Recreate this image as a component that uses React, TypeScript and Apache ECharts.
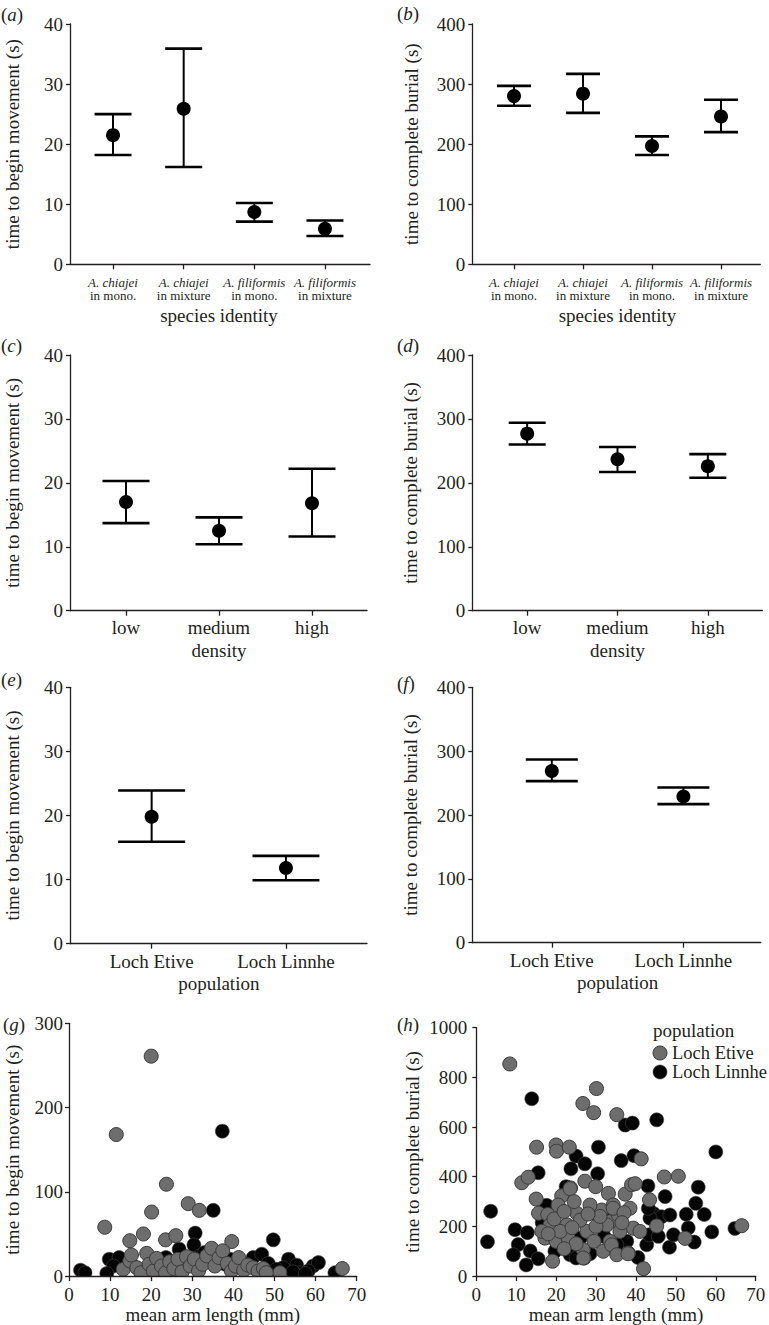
import React, { useEffect, useRef } from "react";
import * as echarts from "echarts";

const FONT = "'Liberation Serif', 'Times New Roman', serif";
const INK = "#231f20";
const GRAY = "#6d6d6d";
const GRAY_EDGE = "#3a3a3a";
const BLACK = "#050505";

// ---- (a)/(b) species identity ----
const speciesCategories = [
  "A. chiajei\nin mono.",
  "A. chiajei\nin mixture",
  "A. filiformis\nin mono.",
  "A. filiformis\nin mixture",
];
const moveBySpeciesMean = [21.5, 25.9, 8.7, 5.9];
const moveBySpeciesLower = [18.2, 16.2, 7.1, 4.7];
const moveBySpeciesUpper = [25.0, 35.9, 10.2, 7.3];
const burialBySpeciesMean = [280, 284, 197, 246];
const burialBySpeciesLower = [264, 252, 182, 220];
const burialBySpeciesUpper = [297, 317, 213, 274];

// ---- (c)/(d) density ----
const densityCategories = ["low", "medium", "high"];
const moveByDensityMean = [17.0, 12.5, 16.8];
const moveByDensityLower = [13.7, 10.4, 11.6];
const moveByDensityUpper = [20.3, 14.6, 22.2];
const burialByDensityMean = [277, 237, 226];
const burialByDensityLower = [260, 217, 208];
const burialByDensityUpper = [294, 256, 245];

// ---- (e)/(f) population ----
const populationCategories = ["Loch Etive", "Loch Linnhe"];
const moveByPopulationMean = [19.8, 11.8];
const moveByPopulationLower = [15.9, 9.9];
const moveByPopulationUpper = [23.9, 13.7];
const burialByPopulationMean = [269, 229];
const burialByPopulationLower = [253, 217];
const burialByPopulationUpper = [287, 243];

// ---- axis ranges ----
const moveAxis = { max: 40, step: 10 };
const burialAxis = { max: 400, step: 100 };
const armAxis = { max: 70, step: 10 };
const moveScatterAxis = { max: 300, step: 100 };
const burialScatterAxis = { max: 1000, step: 200 };

// ---- (g) mean arm length (mm) vs time to begin movement (s) ----
const moveLengthEtive: number[][] = [
  [20, 261], [11.5, 168], [23.7, 109], [29, 86], [31.7, 78], [20.1, 76], [8.7, 58],
  [18.1, 50], [14.8, 42], [23.5, 43], [26, 48], [39.6, 41], [51.3, 4], [66.5, 9],
  [13.2, 8], [14.8, 18], [15.2, 25], [16.5, 10], [17.5, 4], [18.9, 27], [19.5, 14],
  [20.5, 6], [21.3, 21], [22.5, 12], [23.5, 4], [24.5, 17], [25.5, 9], [26.5, 20],
  [27.5, 5], [28.6, 23], [29.5, 12], [30.5, 20], [31.5, 6], [32.5, 14], [33.5, 24],
  [34.7, 33], [35.5, 12], [36.5, 22], [37.4, 30], [38.5, 15], [39.5, 6], [40.5, 12],
  [41.3, 22], [42.5, 7], [43.5, 13], [44.8, 10], [46, 6], [47.3, 9], [48, 4],
];
const moveLengthLinnhe: number[][] = [
  [37.3, 172], [35.1, 78], [30.7, 51], [30.4, 37], [26.8, 32], [49.7, 43], [9.8, 20],
  [12.2, 22], [10.8, 12], [2.8, 7], [3.9, 4], [9.2, 3], [23.6, 22], [44.8, 22],
  [46.9, 26], [48.5, 15], [53.4, 20], [55.4, 13], [59.4, 12], [60.7, 16], [56.2, 4],
  [64.7, 4], [43.2, 14], [31.9, 24], [39.2, 20], [52.1, 10], [58.2, 6], [50.5, 8],
  [54.5, 5], [57.5, 3], [33, 28], [38, 14],
];

// ---- (h) mean arm length (mm) vs time to complete burial (s) ----
const burialLengthEtive: number[][] = [
  [8.4, 854], [30.1, 755], [26.7, 695], [29.4, 658], [35.2, 650], [15.1, 519], [20, 528],
  [20.1, 503], [23.3, 519], [41.3, 472], [11.4, 376], [13, 398], [27.2, 382], [29.9, 360],
  [23.6, 355], [33.1, 333], [37.3, 330], [38.9, 368], [47.1, 399], [50.6, 402], [15, 310],
  [43.4, 307], [15.6, 253], [17.9, 248], [45.2, 202], [52.3, 152], [66.5, 203], [19.1, 60],
  [27, 73], [41.9, 30], [21.4, 323], [23.5, 352], [20.5, 286], [18.5, 206], [17.2, 153],
  [20, 140], [23, 153], [22.7, 206], [25.2, 253], [27.7, 180], [29.5, 140], [26.8, 106],
  [26.8, 73], [31.8, 100], [33.5, 140], [31.4, 266], [28.5, 286], [34.3, 286], [33.5, 219],
  [35.6, 246], [21, 180], [16.4, 180], [34.3, 273], [38.5, 273], [39.3, 193], [36, 180],
  [32.7, 206], [33.9, 126], [38.1, 93], [35.2, 86], [41, 180], [39.8, 372], [19.5, 230],
  [22, 260], [24.5, 300], [26, 225], [30, 200], [31, 240], [37, 255], [36.5, 215],
  [25, 130], [28, 250], [18, 170], [22, 110], [24, 195], [38, 90],
];
const burialLengthLinnhe: number[][] = [
  [13.9, 714], [45.2, 629], [37.3, 608], [39.1, 616], [30.6, 519], [25, 483], [27.2, 452],
  [39.5, 485], [36.3, 465], [23.7, 432], [30.4, 412], [15.5, 416], [60, 500], [43, 363],
  [47.3, 320], [55.6, 358], [55, 293], [57.1, 248], [52.6, 249], [59, 178], [64.8, 192],
  [3.6, 261], [2.8, 138], [9.7, 187], [12.8, 175], [10.5, 127], [9.3, 86], [13.5, 101],
  [15.5, 70], [12.5, 45], [17.6, 285], [48.4, 116], [49.4, 166], [53.1, 194], [54.6, 137],
  [40.5, 75], [44.4, 252], [46.4, 239], [48.5, 246], [42.7, 126], [43.3, 166], [43.5, 233],
  [45.6, 160], [37.7, 140], [17.2, 206], [30.2, 246], [26.1, 153], [23.5, 86], [25, 73],
  [19.7, 100], [35.2, 126], [43.1, 273], [16.5, 215], [22.5, 360], [28.5, 90], [32, 160],
  [34, 230],
];

const populationNames = ["Loch Etive", "Loch Linnhe"];

const axisLine = { show: true, lineStyle: { color: INK, width: 1.3 } };
const tickLine = { color: INK, width: 1.3 };
const plainNumber = (v: number) => String(v);

type CatPanel = {
  letter: string;
  letterXY: [number, number];
  left: number;
  top: number;
  width: number;
  height: number;
  innerLeft: number;
  innerWidth: number;
  cats: string[];
  mean: number[];
  lower: number[];
  upper: number[];
  yMax: number;
  yStep: number;
  yName: string;
  yNameGap: number;
  xName: string;
  xNameGap: number;
  labelMargin: number;
  twoLine: boolean;
  capWidth: number;
};

type ScatterPanel = {
  letter: string;
  letterXY: [number, number];
  left: number;
  top: number;
  width: number;
  height: number;
  yMax: number;
  yStep: number;
  yName: string;
  yNameGap: number;
  yLabelMargin: number;
  etive: number[][];
  linnhe: number[][];
};

function letterGraphic(letter: string, xy: [number, number]) {
  return {
    type: "text",
    x: xy[0],
    y: xy[1],
    z: 100,
    style: {
      text: `{p|(}{i|${letter}}{p|)}`,
      verticalAlign: "middle",
      fontSize: 19,
      fontFamily: FONT,
      fill: INK,
      rich: {
        p: { fontSize: 19, fontFamily: FONT, fill: INK },
        i: { fontSize: 19, fontFamily: FONT, fontStyle: "italic", fill: INK },
      },
    },
  };
}

function buildOption() {
  const grid: any[] = [];
  const xAxis: any[] = [];
  const yAxis: any[] = [];
  const series: any[] = [];
  const graphic: any[] = [];
  const nameStyle = { fontSize: 19, fontFamily: FONT, color: INK };

  const addCatPanel = (p: CatPanel) => {
    const g = grid.length;
    grid.push({ left: p.left, top: p.top, width: p.width, height: p.height });
    grid.push({ left: p.innerLeft, top: p.top, width: p.innerWidth, height: p.height });
    const xi = xAxis.length;
    xAxis.push({
      type: "value",
      gridIndex: g,
      min: 0,
      max: 1,
      axisLine,
      axisTick: { show: false },
      axisLabel: { show: false },
      splitLine: { show: false },
    });
    xAxis.push({
      type: "category",
      gridIndex: g + 1,
      data: p.cats,
      boundaryGap: true,
      axisLine: { show: false },
      axisTick: { show: true, alignWithLabel: true, interval: 0, length: 5, lineStyle: tickLine },
      axisLabel: p.twoLine
        ? {
            interval: 0,
            margin: p.labelMargin,
            formatter: (v: string) => {
              const [a, b] = v.split("\n");
              return `{it|${a}}\n{n|${b}}`;
            },
            rich: {
              it: { fontStyle: "italic", fontSize: 13, lineHeight: 13, fontFamily: FONT, color: INK },
              n: { fontSize: 13, lineHeight: 13, fontFamily: FONT, color: INK },
            },
          }
        : { interval: 0, margin: p.labelMargin, fontSize: 19, lineHeight: 19, fontFamily: FONT, color: INK },
      splitLine: { show: false },
      name: p.xName,
      nameLocation: "middle",
      nameGap: p.xNameGap,
      nameTextStyle: nameStyle,
    });
    const yi = yAxis.length;
    yAxis.push({
      type: "value",
      gridIndex: g,
      min: 0,
      max: p.yMax,
      interval: p.yStep,
      axisLine,
      axisTick: { show: true, length: 4, lineStyle: tickLine },
      axisLabel: { fontSize: 19, margin: 7, fontFamily: FONT, color: INK, formatter: plainNumber },
      splitLine: { show: false },
      name: p.yName,
      nameLocation: "middle",
      nameGap: p.yNameGap,
      nameTextStyle: nameStyle,
    });
    yAxis.push({ type: "value", gridIndex: g + 1, min: 0, max: p.yMax, show: false });

    const half = p.capWidth / 2;
    series.push({
      type: "custom",
      xAxisIndex: xi + 1,
      yAxisIndex: yi + 1,
      encode: { x: 0, y: [1, 2] },
      data: p.lower.map((lo, i) => [i, lo, p.upper[i]]),
      z: 2,
      renderItem: (_params: any, api: any) => {
        const lo = api.coord([api.value(0), api.value(1)]);
        const hi = api.coord([api.value(0), api.value(2)]);
        const cap = { stroke: "#000", lineWidth: 2.6 };
        return {
          type: "group",
          children: [
            { type: "line", shape: { x1: lo[0], y1: lo[1], x2: hi[0], y2: hi[1] }, style: { stroke: "#000", lineWidth: 2 } },
            { type: "line", shape: { x1: lo[0] - half, y1: lo[1], x2: lo[0] + half, y2: lo[1] }, style: cap },
            { type: "line", shape: { x1: hi[0] - half, y1: hi[1], x2: hi[0] + half, y2: hi[1] }, style: cap },
          ],
        };
      },
    });
    series.push({
      type: "scatter",
      xAxisIndex: xi + 1,
      yAxisIndex: yi + 1,
      data: p.mean.map((m, i) => [i, m]),
      symbol: "circle",
      symbolSize: 14,
      itemStyle: { color: "#000", opacity: 1 },
      z: 3,
    });
    graphic.push(letterGraphic(p.letter, p.letterXY));
  };

  const dotSeries = (name: string, data: number[][], xi: number, yi: number, fill: string, stroke: string, lw: number) => ({
    type: "custom",
    name,
    xAxisIndex: xi,
    yAxisIndex: yi,
    encode: { x: 0, y: 1 },
    clip: true,
    data,
    itemStyle: { color: fill, borderColor: stroke, borderWidth: lw },
    renderItem: (_params: any, api: any) => {
      const c = api.coord([api.value(0), api.value(1)]);
      return {
        type: "circle",
        shape: { cx: c[0], cy: c[1], r: 7 },
        style: { fill, stroke, lineWidth: lw },
      };
    },
  });

  const addScatterPanel = (p: ScatterPanel) => {
    const g = grid.length;
    grid.push({ left: p.left, top: p.top, width: p.width, height: p.height });
    const xi = xAxis.length;
    xAxis.push({
      type: "value",
      gridIndex: g,
      min: 0,
      max: armAxis.max,
      interval: armAxis.step,
      axisLine,
      axisTick: { show: true, length: 5, lineStyle: tickLine },
      axisLabel: { fontSize: 19, margin: 9, fontFamily: FONT, color: INK, formatter: plainNumber },
      splitLine: { show: false },
      name: "mean arm length (mm)",
      nameLocation: "middle",
      nameGap: 27,
      nameTextStyle: nameStyle,
      z: 10,
    });
    const yi = yAxis.length;
    yAxis.push({
      type: "value",
      gridIndex: g,
      min: 0,
      max: p.yMax,
      interval: p.yStep,
      axisLine,
      axisTick: { show: true, length: 4, lineStyle: tickLine },
      axisLabel: { fontSize: 19, margin: p.yLabelMargin, fontFamily: FONT, color: INK, formatter: plainNumber },
      splitLine: { show: false },
      name: p.yName,
      nameLocation: "middle",
      nameGap: p.yNameGap,
      nameTextStyle: nameStyle,
      z: 10,
    });
    series.push(dotSeries(populationNames[1], p.linnhe, xi, yi, BLACK, "#444", 0.6));
    series.push(dotSeries(populationNames[0], p.etive, xi, yi, GRAY, GRAY_EDGE, 1));
    graphic.push(letterGraphic(p.letter, p.letterXY));
  };

  const moveName = "time to begin movement (s)";
  const burialName = "time to complete burial (s)";

  addCatPanel({
    letter: "a", letterXY: [1, 14],
    left: 70, top: 24, width: 300, height: 240.3,
    innerLeft: 77.7, innerWidth: 282.6,
    cats: speciesCategories, mean: moveBySpeciesMean, lower: moveBySpeciesLower, upper: moveBySpeciesUpper,
    yMax: moveAxis.max, yStep: moveAxis.step, yName: moveName, yNameGap: 48.5,
    xName: "species identity", xNameGap: 42, labelMargin: 12, twoLine: true, capWidth: 37,
  });
  addCatPanel({
    letter: "b", letterXY: [397, 13],
    left: 472.3, top: 24, width: 288, height: 240.3,
    innerLeft: 479.5, innerWidth: 276,
    cats: speciesCategories, mean: burialBySpeciesMean, lower: burialBySpeciesLower, upper: burialBySpeciesUpper,
    yMax: burialAxis.max, yStep: burialAxis.step, yName: burialName, yNameGap: 51.5,
    xName: "species identity", xNameGap: 42, labelMargin: 12, twoLine: true, capWidth: 34,
  });
  addCatPanel({
    letter: "c", letterXY: [1, 345.5],
    left: 70, top: 355, width: 297, height: 255.7,
    innerLeft: 79.5, innerWidth: 279,
    cats: densityCategories, mean: moveByDensityMean, lower: moveByDensityLower, upper: moveByDensityUpper,
    yMax: moveAxis.max, yStep: moveAxis.step, yName: moveName, yNameGap: 48.5,
    xName: "density", xNameGap: 30, labelMargin: 7.5, twoLine: false, capWidth: 47,
  });
  addCatPanel({
    letter: "d", letterXY: [397, 345.5],
    left: 472.3, top: 355, width: 290, height: 255.7,
    innerLeft: 482, innerWidth: 271,
    cats: densityCategories, mean: burialByDensityMean, lower: burialByDensityLower, upper: burialByDensityUpper,
    yMax: burialAxis.max, yStep: burialAxis.step, yName: burialName, yNameGap: 52,
    xName: "density", xNameGap: 30, labelMargin: 7.5, twoLine: false, capWidth: 37,
  });
  addCatPanel({
    letter: "e", letterXY: [1, 679],
    left: 70, top: 687.3, width: 297, height: 256.4,
    innerLeft: 84.5, innerWidth: 268.6,
    cats: populationCategories, mean: moveByPopulationMean, lower: moveByPopulationLower, upper: moveByPopulationUpper,
    yMax: moveAxis.max, yStep: moveAxis.step, yName: moveName, yNameGap: 48.5,
    xName: "population", xNameGap: 30, labelMargin: 8.5, twoLine: false, capWidth: 67,
  });
  addCatPanel({
    letter: "f", letterXY: [397, 683],
    left: 472.3, top: 687.3, width: 288.4, height: 255.4,
    innerLeft: 486, innerWidth: 263.2,
    cats: populationCategories, mean: burialByPopulationMean, lower: burialByPopulationLower, upper: burialByPopulationUpper,
    yMax: burialAxis.max, yStep: burialAxis.step, yName: burialName, yNameGap: 52,
    xName: "population", xNameGap: 30, labelMargin: 8.5, twoLine: false, capWidth: 52,
  });
  addScatterPanel({
    letter: "g", letterXY: [3, 1024],
    left: 69, top: 1023.3, width: 287.7, height: 255,
    yMax: moveScatterAxis.max, yStep: moveScatterAxis.step, yName: moveName, yNameGap: 47.5, yLabelMargin: 6,
    etive: moveLengthEtive, linnhe: moveLengthLinnhe,
  });
  addScatterPanel({
    letter: "h", letterXY: [397, 1024],
    left: 476.3, top: 1027.7, width: 279.4, height: 250.6,
    yMax: burialScatterAxis.max, yStep: burialScatterAxis.step, yName: burialName, yNameGap: 54, yLabelMargin: 9,
    etive: burialLengthEtive, linnhe: burialLengthLinnhe,
  });

  graphic.push({
    type: "text",
    x: 653,
    y: 1030,
    style: { text: "population", verticalAlign: "middle", fontSize: 19, fontFamily: FONT, fill: INK },
  });

  return {
    animation: false,
    backgroundColor: "#ffffff",
    textStyle: { fontFamily: FONT, color: INK },
    grid,
    xAxis,
    yAxis,
    series,
    graphic,
    legend: {
      orient: "vertical",
      left: 652.5,
      top: 1043.5,
      padding: 0,
      itemWidth: 14,
      itemHeight: 14,
      itemGap: 0,
      selectedMode: false,
      textStyle: { fontSize: 18.5, fontFamily: FONT, color: INK, lineHeight: 19 },
      data: [
        { name: populationNames[0], icon: "circle", itemStyle: { color: GRAY, borderColor: GRAY_EDGE, borderWidth: 1 } },
        { name: populationNames[1], icon: "circle", itemStyle: { color: BLACK, borderColor: "#444", borderWidth: 0.6 } },
      ],
    },
  };
}

export default function App() {
  const ref = useRef<HTMLDivElement>(null);
  useEffect(() => {
    if (!ref.current) return;
    const chart = echarts.init(ref.current, undefined, { renderer: "svg" });
    chart.setOption(buildOption() as any);
    return () => chart.dispose();
  }, []);
  return (
    <div
      ref={ref}
      style={{ position: "absolute", left: 0, top: 0, width: 769, height: 1325, background: "#fff" }}
    />
  );
}
